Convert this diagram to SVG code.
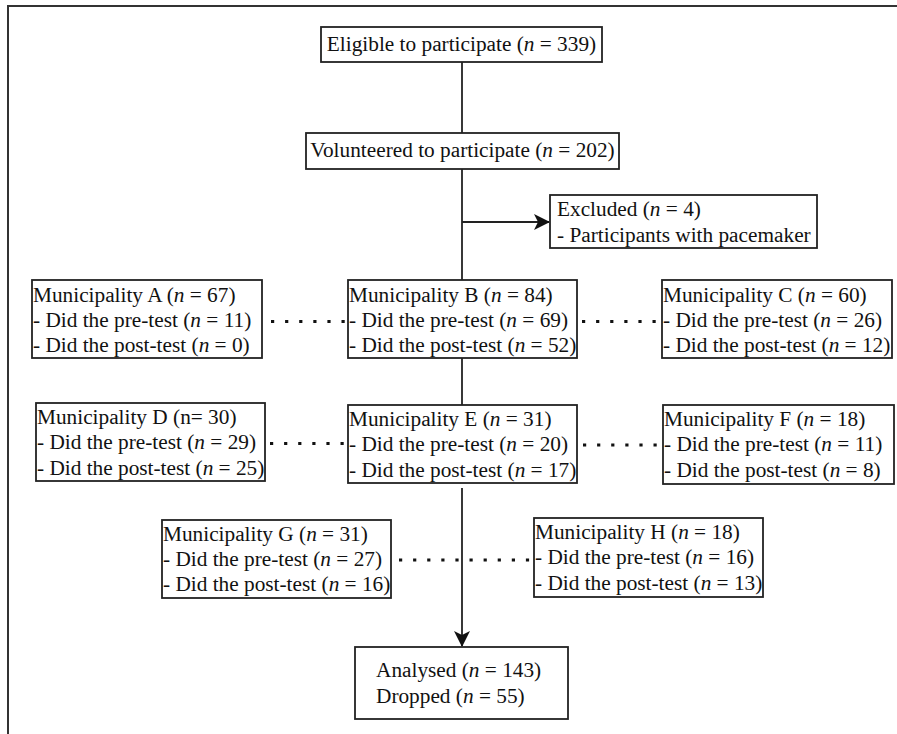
<svg xmlns="http://www.w3.org/2000/svg" width="897" height="734" viewBox="0 0 897 734">
<defs>
<style>
.box{fill:#fff;stroke:#222;stroke-width:1.8}
.t{font-family:"Liberation Serif","Times New Roman","DejaVu Serif",serif;font-size:21.3px;fill:#111}
.i{font-style:italic}
.ln{stroke:#222;stroke-width:1.8;fill:none}
.dot{stroke:#111;stroke-width:3.2;fill:none;stroke-dasharray:3.2 10.9}
</style>
<marker id="ah" viewBox="0 0 16 16" refX="15" refY="8" markerWidth="16" markerHeight="16" markerUnits="userSpaceOnUse" orient="auto">
<path d="M0,0 L16,8 L0,16 L4,8 Z" fill="#111"/>
</marker>
</defs>
<rect width="897" height="734" fill="#fff"/>
<path d="M8,734 V6 H897" fill="none" stroke="#333" stroke-width="2"/>

<g id="connectors">
<line class="ln" x1="462" y1="62" x2="462" y2="133"/>
<line class="ln" x1="462" y1="169" x2="462" y2="280"/>
<line class="ln" x1="462" y1="222" x2="549" y2="222" marker-end="url(#ah)"/>
<line class="ln" x1="462" y1="358" x2="462" y2="405"/>
<line class="ln" x1="462" y1="488" x2="462" y2="646" marker-end="url(#ah)"/>
<line class="dot" x1="271" y1="321.5" x2="348" y2="321.5"/>
<line class="dot" x1="582" y1="321.5" x2="662" y2="321.5"/>
<line class="dot" x1="270" y1="443.5" x2="348" y2="443.5"/>
<line class="dot" x1="583" y1="445" x2="663" y2="445"/>
<line class="dot" x1="399" y1="560" x2="534" y2="560"/>
</g>

<g id="eligible">
<rect class="box" x="321" y="27" width="281" height="35"/>
<text class="t" x="461.5" y="51" text-anchor="middle">Eligible to participate (<tspan class="i">n</tspan> = 339)</text>
</g>
<g id="volunteered">
<rect class="box" x="306" y="133" width="313" height="36"/>
<text class="t" x="462.5" y="157" text-anchor="middle">Volunteered to participate (<tspan class="i">n</tspan> = 202)</text>
</g>
<g id="excluded">
<rect class="box" x="550" y="195" width="267" height="53"/>
<text class="t" x="557" y="216">Excluded (<tspan class="i">n</tspan> = 4)</text>
<text class="t" x="557" y="242">- Participants with pacemaker</text>
</g>

<g id="munA">
<rect class="box" x="32" y="280" width="230" height="78"/>
<text class="t" x="33" y="302">Municipality A (<tspan class="i">n</tspan> = 67)</text>
<text class="t" x="33" y="327">- Did the pre-test (<tspan class="i">n</tspan> = 11)</text>
<text class="t" x="33" y="352">- Did the post-test (<tspan class="i">n</tspan> = 0)</text>
</g>
<g id="munB">
<rect class="box" x="348" y="280" width="229" height="78"/>
<text class="t" x="349" y="302">Municipality B (<tspan class="i">n</tspan> = 84)</text>
<text class="t" x="349" y="327">- Did the pre-test (<tspan class="i">n</tspan> = 69)</text>
<text class="t" x="349" y="352">- Did the post-test (<tspan class="i">n</tspan> = 52)</text>
</g>
<g id="munC">
<rect class="box" x="662" y="280" width="230" height="78"/>
<text class="t" x="663" y="302">Municipality C (<tspan class="i">n</tspan> = 60)</text>
<text class="t" x="663" y="327">- Did the pre-test (<tspan class="i">n</tspan> = 26)</text>
<text class="t" x="663" y="352">- Did the post-test (<tspan class="i">n</tspan> = 12)</text>
</g>

<g id="munD">
<rect class="box" x="36" y="403" width="229" height="78"/>
<text class="t" x="37" y="424">Municipality D (n= 30)</text>
<text class="t" x="37" y="449">- Did the pre-test (<tspan class="i">n</tspan> = 29)</text>
<text class="t" x="37" y="475">- Did the post-test (<tspan class="i">n</tspan> = 25)</text>
</g>
<g id="munE">
<rect class="box" x="348" y="405" width="229" height="78"/>
<text class="t" x="349" y="426">Municipality E (<tspan class="i">n</tspan> = 31)</text>
<text class="t" x="349" y="451">- Did the pre-test (<tspan class="i">n</tspan> = 20)</text>
<text class="t" x="349" y="477">- Did the post-test (<tspan class="i">n</tspan> = 17)</text>
</g>
<g id="munF">
<rect class="box" x="663" y="405" width="231" height="79"/>
<text class="t" x="664" y="426">Municipality F (<tspan class="i">n</tspan> = 18)</text>
<text class="t" x="664" y="451">- Did the pre-test (<tspan class="i">n</tspan> = 11)</text>
<text class="t" x="664" y="477">- Did the post-test (<tspan class="i">n</tspan> = 8)</text>
</g>

<g id="munG">
<rect class="box" x="162" y="520" width="229" height="78"/>
<text class="t" x="163" y="541">Municipality G (<tspan class="i">n</tspan> = 31)</text>
<text class="t" x="163" y="566">- Did the pre-test (<tspan class="i">n</tspan> = 27)</text>
<text class="t" x="163" y="591">- Did the post-test (<tspan class="i">n</tspan> = 16)</text>
</g>
<g id="munH">
<rect class="box" x="534" y="518" width="229" height="79"/>
<text class="t" x="535" y="539">Municipality H (<tspan class="i">n</tspan> = 18)</text>
<text class="t" x="535" y="564">- Did the pre-test (<tspan class="i">n</tspan> = 16)</text>
<text class="t" x="535" y="590">- Did the post-test (<tspan class="i">n</tspan> = 13)</text>
</g>

<g id="analysed">
<rect class="box" x="355" y="647" width="213" height="72"/>
<text class="t" x="376" y="677">Analysed (<tspan class="i">n</tspan> = 143)</text>
<text class="t" x="376" y="703">Dropped (<tspan class="i">n</tspan> = 55)</text>
</g>
</svg>
